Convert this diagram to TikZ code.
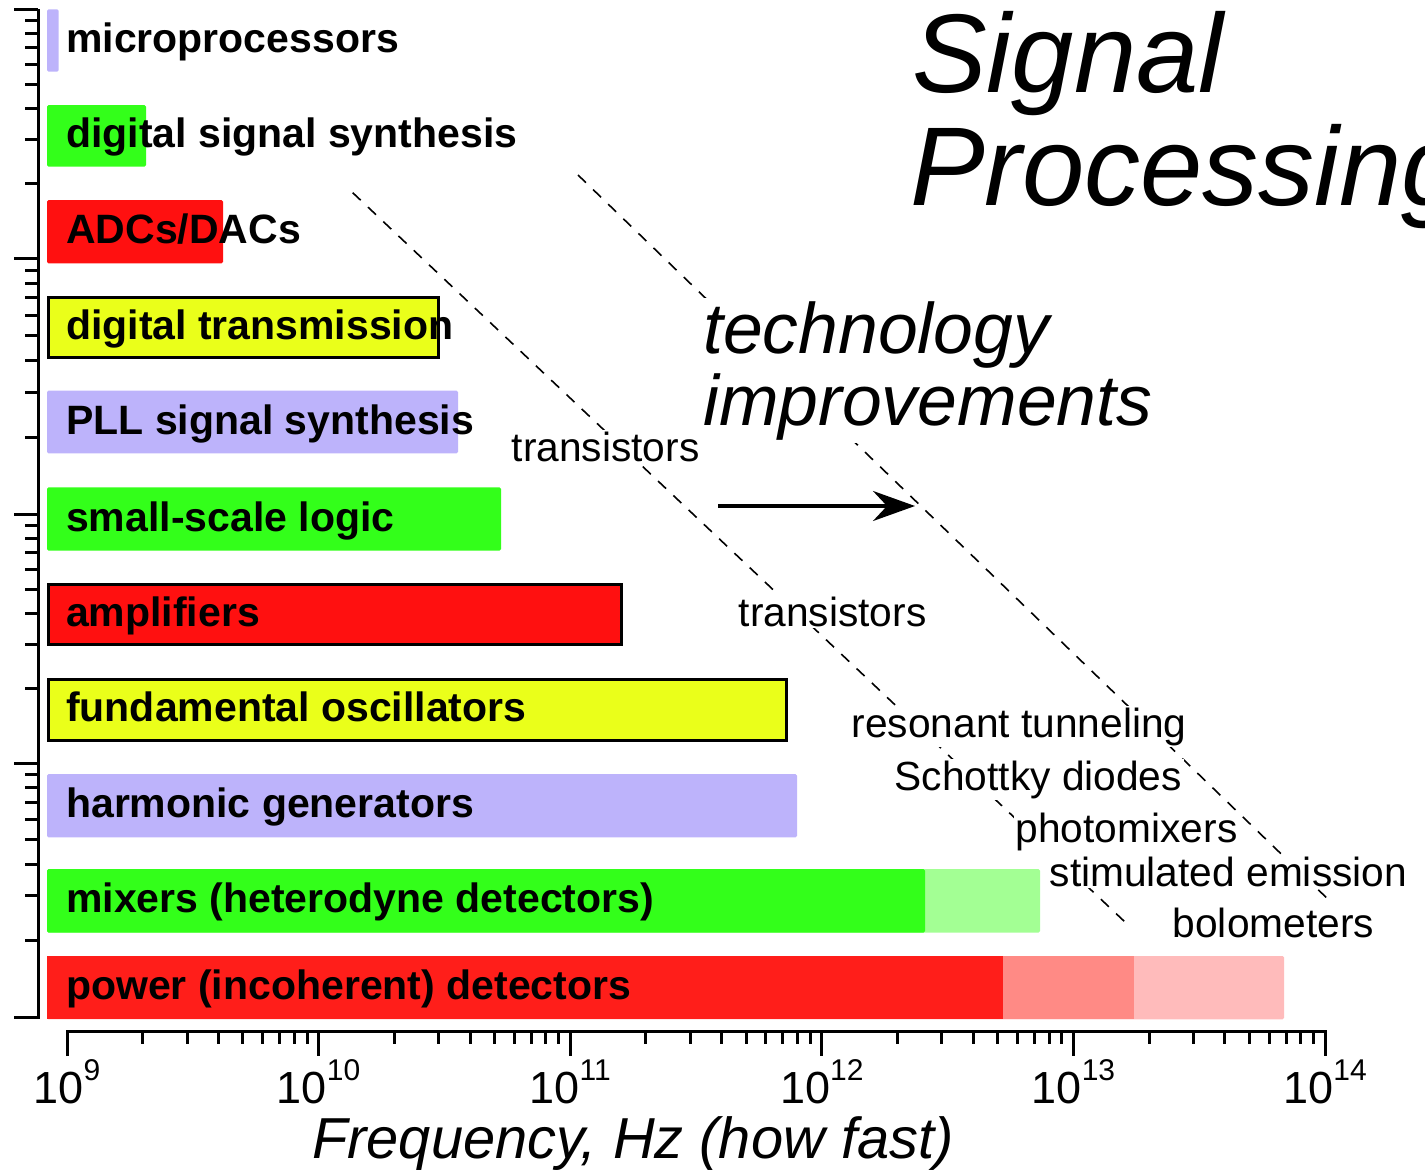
\documentclass[tikz,border=0pt]{standalone}
\usepackage{fontspec}
\setmainfont{Liberation Sans}
\usetikzlibrary{arrows.meta}
\definecolor{lav}{HTML}{BDB3FB}
\definecolor{grn}{HTML}{33FF1A}
\definecolor{rd}{HTML}{FF1010}
\definecolor{rdp}{HTML}{FF1E1A}
\definecolor{yel}{HTML}{EAFF1A}
\definecolor{lgrn}{HTML}{A3FF94}
\definecolor{salm}{HTML}{FF8A85}
\definecolor{pnk}{HTML}{FFBBBB}
\newcommand\tenp[1]{10\raisebox{23pt}{\fontsize{30}{30}\selectfont#1}}
\begin{document}
\begin{tikzpicture}[x=1pt,y=-1pt,
  bar/.style={rounded corners=1.5pt},
  boxbar/.style={draw=black,line width=3pt},
  barlabel/.style={anchor=base west,inner sep=0pt,font=\fontsize{41}{44}\selectfont\bfseries},
  note/.style={anchor=base west,inner sep=1.5pt,fill=white,font=\fontsize{40.7}{44}\selectfont},
  big/.style={anchor=base west,inner sep=3pt,fill=white,font=\fontsize{71.5}{72}\selectfont\itshape},
  title/.style={anchor=base west,inner sep=0pt,font=\fontsize{112}{112}\selectfont\itshape},
  axisline/.style={line width=3pt},
  dashline/.style={line width=1.6pt,dash pattern=on 11pt off 10pt},
  ticklab/.style={anchor=base,inner sep=0pt,font=\fontsize{45}{48}\selectfont},
  arrowline/.style={line width=3.5pt,-{Stealth[length=42pt,width=30pt,inset=14pt]}}
]
\useasboundingbox (0,0) rectangle (1425,1173);

% ---- bars ----
\fill[lav,bar] (47,9.3) rectangle (58.7,71.7);
\fill[grn,bar] (47,105) rectangle (146,166.7);
\fill[rd,bar] (47,200) rectangle (223,263.3);
\draw[boxbar,fill=yel] (48.5,297.5) rectangle (438.5,357.8);
\fill[lav,bar] (47,390.7) rectangle (458,453.3);
\fill[grn,bar] (47,487.3) rectangle (501,550.7);
\draw[boxbar,fill=rd] (48.5,584.2) rectangle (621.5,644.5);
\draw[boxbar,fill=yel] (48.5,679.2) rectangle (786.5,740.2);
\fill[lav,bar] (47,774) rectangle (797,837.3);
\fill[lgrn,bar] (47,869) rectangle (1040,932.7);
\fill[grn,bar] (47,869) rectangle (925,932.7);
\fill[pnk,bar] (47,956) rectangle (1284,1019.3);
\fill[salm] (47,956) rectangle (1134,1019.3);
\fill[rdp] (47,956) rectangle (1003,1019.3);

% ---- bar labels ----
\node[barlabel] (lmicro) at (66,52) {microprocessors};
\node[barlabel] (ldss) at (66,147.5) {digital signal synthesis};
\node[barlabel] (ladc) at (66,243.5) {ADCs/DACs};
\node[barlabel] (ldt) at (66,339.5) {digital transmission};
\node[barlabel] (lpll) at (66,434) {PLL signal synthesis};
\node[barlabel] (lssl) at (66,531) {small-scale logic};
\node[barlabel] (lamp) at (66,626) {amplifiers};
\node[barlabel] (lfo) at (66,721.5) {fundamental oscillators};
\node[barlabel] (lhg) at (66,817.5) {harmonic generators};
\node[barlabel] (lmix) at (66,912.5) {mixers (heterodyne detectors)};
\node[barlabel] (lpow) at (66,999.5) {power (incoherent) detectors};

% ---- left axis ----
\draw[axisline] (38,9.3) -- (38,1018.5);
\foreach \y in {9.3,258.3,514,763.3,1017} \draw[axisline] (14,\y) -- (38,\y);
\foreach \T/\B in {9.3/258.3,258.3/514,514/763.3,763.3/1017}{
  \foreach \k in {2,...,9}{
    \draw[axisline] (25,{\B-(\B-\T)*log10(\k)}) -- (38,{\B-(\B-\T)*log10(\k)});
  }
}

% ---- bottom axis ----
\draw[axisline] (67,1056) -- (67,1031) -- (1325,1031) -- (1325,1056);
\foreach \i in {1,...,4} \draw[axisline] ({67+251.6*\i},1031) -- ({67+251.6*\i},1056);
\foreach \i in {0,...,4}{
  \foreach \k in {2,...,9}{
    \draw[axisline] ({67+251.6*(\i+log10(\k))},1031) -- ({67+251.6*(\i+log10(\k))},1044);
  }
}
\node[ticklab] (t9) at (67,1103) {\tenp{9}};
\node[ticklab] (t10) at (318.6,1103) {\tenp{10}};
\node[ticklab] (t11) at (570.2,1103) {\tenp{11}};
\node[ticklab] (t12) at (821.8,1103) {\tenp{12}};
\node[ticklab] (t13) at (1073.4,1103) {\tenp{13}};
\node[ticklab] (t14) at (1325,1103) {\tenp{14}};
\node[anchor=base west,inner sep=0pt,font=\fontsize{57.8}{60}\selectfont\itshape] (xlab) at (312,1158) {Frequency, Hz (how fast)};

% ---- dashed trend lines ----
\coordinate (d1s) at (352.7,192.7);
\coordinate (d1e) at (1125,922);
\coordinate (d2s) at (578,175);
\coordinate (d2e) at (1333,904);
\draw[dashline] (d1s) -- (d1e);
\draw[dashline] (d2s) -- (d2e);

% ---- annotations ----
\node[note] (tr1) at (510,461) {transistors};
\node[note] (tr2) at (737,626) {transistors};
\node[note] (rt) at (850,737) {resonant tunneling};
\node[note] (sd) at (893,790) {Schottky diodes};
\node[note] (pm) at (1014,842) {photomixers};
\node[note] (se) at (1048,886) {stimulated emission};
\node[note] (bo) at (1171,937) {bolometers};

\node[big] (tech) at (700,353) {technology};
\node[big] (impr) at (700,425) {improvements};

\coordinate (as) at (718,506);
\coordinate (ae) at (915,506);
\draw[arrowline] (as) -- (ae);

\node[title] (sig) at (912,92) {Signal};
\node[title] (proc) at (910,205) {Processing};
\end{tikzpicture}
\end{document}
